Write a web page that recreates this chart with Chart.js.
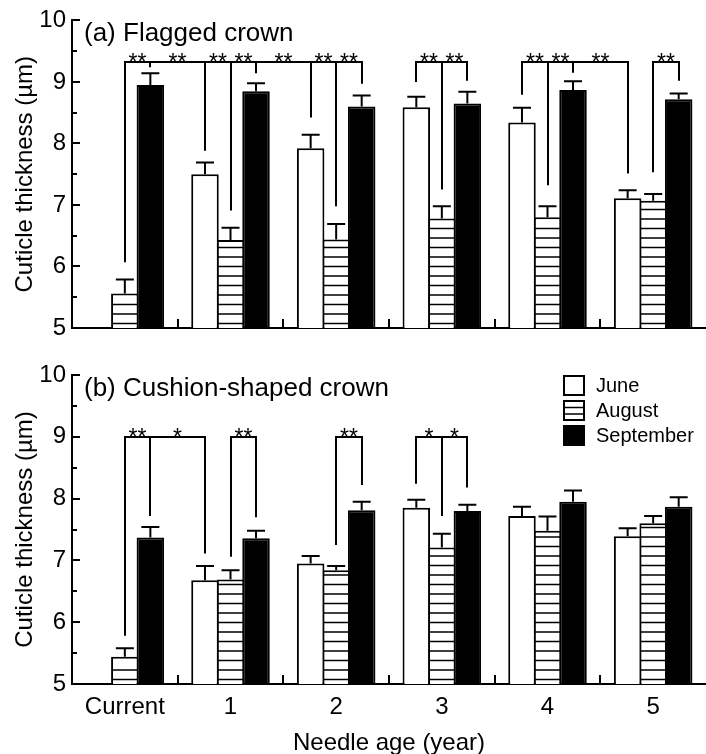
<!DOCTYPE html>
<html>
<head>
<meta charset="utf-8">
<script src="https://cdn.jsdelivr.net/npm/chart.js@4.4.1/dist/chart.umd.min.js"></script>
<style>
  html, body { margin: 0; padding: 0; background: #fff; }
  #wrap { width: 706px; height: 754px; }
  canvas { display: block; }
</style>
</head>
<body>
<div id="wrap">
  <canvas id="flaggedChart" width="706" height="350"></canvas>
  <canvas id="cushionChart" width="706" height="404"></canvas>
</div>
<script>
// needle age classes and sampling months
const ageLabels = ['Current', '1', '2', '3', '4', '5'];
const monthNames = ['June', 'August', 'September'];
const yTicks = [5, 6, 7, 8, 9, 10];

// (a) flagged crown - mean cuticle thickness and SE (um)
const juneA = [null, 7.50, 7.92, 8.59, 8.34, 7.11];
const augA = [5.56, 6.43, 6.44, 6.78, 6.80, 7.07];
const sepA = [8.95, 8.85, 8.60, 8.65, 8.87, 8.72];
const juneErrA = [null, 0.19, 0.22, 0.17, 0.24, 0.13];
const augErrA = [0.23, 0.20, 0.25, 0.20, 0.18, 0.11];
const sepErrA = [0.19, 0.13, 0.18, 0.19, 0.14, 0.09];

// (b) cushion-shaped crown
const juneB = [null, 6.68, 6.95, 7.85, 7.72, 7.39];
const augB = [5.44, 6.69, 6.84, 7.21, 7.48, 7.60];
const sepB = [7.37, 7.36, 7.81, 7.80, 7.95, 7.87];
const juneErrB = [null, 0.23, 0.12, 0.13, 0.15, 0.13];
const augErrB = [0.14, 0.15, 0.07, 0.22, 0.23, 0.12];
const sepErrB = [0.17, 0.12, 0.14, 0.10, 0.18, 0.15];

// significance brackets: level, drops [age index, month index, end value], marks between drops
const bracketsA = [
  { level: 9.33, drops: [[0, 1, 6.07], [0, 2, 9.24], [1, 0, 7.88], [1, 1, 6.91], [1, 2, 9.14], [2, 0, 8.42], [2, 1, 6.98], [2, 2, 8.97]],
    marks: ['**', '**', '**', '**', '**', '**', '**'] },
  { level: 9.33, drops: [[3, 0, 9.00], [3, 1, 7.25], [3, 2, 9.02]], marks: ['**', '**'] },
  { level: 9.33, drops: [[4, 0, 8.79], [4, 1, 7.32], [4, 2, 9.15], [5, 0, 7.51]], marks: ['**', '**', '**'] },
  { level: 9.33, drops: [[5, 1, 7.53], [5, 2, 9.02]], marks: ['**'] }
];
const bracketsB = [
  { level: 9.0, drops: [[0, 1, 5.78], [0, 2, 7.72], [1, 0, 7.11]], marks: ['**', '*'] },
  { level: 9.0, drops: [[1, 1, 7.06], [1, 2, 7.70]], marks: ['**'] },
  { level: 9.0, drops: [[2, 1, 7.25], [2, 2, 8.22]], marks: ['**'] },
  { level: 9.0, drops: [[3, 0, 8.24], [3, 1, 7.72], [3, 2, 8.18]], marks: ['*', '*'] }
];

const FONT = '"Liberation Sans", Arial, Helvetica, sans-serif';
Chart.defaults.font.family = FONT;
Chart.defaults.color = '#000';

// stripes, error bars, inward ticks, brackets, panel label, legend
const panelExtras = {
  id: 'panelExtras',
  afterDatasetsDraw(chart, args, opts) {
    const ctx = chart.ctx;
    const xs = chart.scales.x, ys = chart.scales.y;
    const area = chart.chartArea;
    ctx.save();
    ctx.strokeStyle = '#000';
    ctx.fillStyle = '#000';

    // horizontal hatching of August bars
    ctx.lineWidth = 1.6;
    chart.getDatasetMeta(1).data.forEach(bar => {
      if (!Number.isFinite(bar.y)) return;
      const l = bar.x - bar.width / 2 + 1, r = bar.x + bar.width / 2 - 1;
      const bottom = Math.min(bar.base, area.bottom);
      ctx.beginPath();
      for (let yy = bottom - 4.5; yy > bar.y + 4; yy -= 9.5) {
        ctx.moveTo(l, yy);
        ctx.lineTo(r, yy);
      }
      ctx.stroke();
    });

    // error bars (upper only)
    ctx.lineWidth = 2;
    opts.errors.forEach((errs, d) => {
      const meta = chart.getDatasetMeta(d);
      const vals = chart.data.datasets[d].data;
      errs.forEach((e, i) => {
        if (e == null || vals[i] == null) return;
        const bar = meta.data[i];
        const top = ys.getPixelForValue(vals[i] + e);
        ctx.beginPath();
        ctx.moveTo(bar.x, bar.y);
        ctx.lineTo(bar.x, top);
        ctx.moveTo(bar.x - 9, top);
        ctx.lineTo(bar.x + 9, top);
        ctx.stroke();
      });
    });

    // inward y ticks
    ctx.beginPath();
    for (let v = 5.5; v <= 10; v += 0.5) {
      const py = Math.round(ys.getPixelForValue(v));
      const len = Number.isInteger(v) ? 8 : 5;
      ctx.moveTo(area.left, py);
      ctx.lineTo(area.left + len, py);
    }
    // category separators on x axis
    for (let i = 0; i < ageLabels.length - 1; i++) {
      const px = Math.round((xs.getPixelForValue(i) + xs.getPixelForValue(i + 1)) / 2);
      ctx.moveTo(px, area.bottom);
      ctx.lineTo(px, area.bottom - 9);
    }
    ctx.stroke();

    // significance brackets
    ctx.font = '23px ' + FONT;
    ctx.textAlign = 'center';
    ctx.textBaseline = 'alphabetic';
    opts.brackets.forEach(b => {
      const lv = Math.round(ys.getPixelForValue(b.level));
      const pts = b.drops.map(([g, s, end]) => ({
        x: Math.round(chart.getDatasetMeta(s).data[g].x),
        y: ys.getPixelForValue(end)
      }));
      const first = pts[0], last = pts[pts.length - 1];
      ctx.beginPath();
      ctx.moveTo(first.x, first.y);
      ctx.lineTo(first.x, lv);
      ctx.lineTo(last.x, lv);
      ctx.lineTo(last.x, last.y);
      for (let k = 1; k < pts.length - 1; k++) {
        ctx.moveTo(pts[k].x, lv);
        ctx.lineTo(pts[k].x, pts[k].y);
      }
      ctx.stroke();
      b.marks.forEach((m, k) => {
        const mx = (pts[k].x + pts[k + 1].x) / 2;
        ctx.fillText(m, mx, lv + 8);
      });
    });

    // panel label
    ctx.font = '26px ' + FONT;
    ctx.textAlign = 'left';
    ctx.fillText(opts.title, area.left + 12, area.top + 21);

    // legend
    if (opts.legend) {
      const x0 = area.right - 143;
      ctx.font = '20px ' + FONT;
      ctx.textBaseline = 'middle';
      monthNames.forEach((name, k) => {
        const y0 = area.top + k * 25;
        ctx.lineWidth = 2;
        if (k === 2) {
          ctx.fillRect(x0, y0, 22, 21);
        } else {
          ctx.strokeRect(x0 + 1, y0 + 1, 20, 19);
          if (k === 1) {
            ctx.beginPath();
            for (let s = 1; s < 3; s++) {
              ctx.moveTo(x0 + 1, y0 + 1 + s * 6.5);
              ctx.lineTo(x0 + 21, y0 + 1 + s * 6.5);
            }
            ctx.lineWidth = 1.6;
            ctx.stroke();
          }
        }
        ctx.fillText(name, x0 + 33, y0 + 11);
      });
    }
    ctx.restore();
  }
};

function makePanel(id, june, aug, sep, errs, brackets, title, opt) {
  const ctx = document.getElementById(id).getContext('2d');
  return new Chart(ctx, {
    type: 'bar',
    data: {
      labels: ageLabels,
      datasets: [
        { label: monthNames[0], data: june, backgroundColor: '#fff' },
        { label: monthNames[1], data: aug, backgroundColor: '#fff' },
        { label: monthNames[2], data: sep, backgroundColor: '#000' }
      ]
    },
    options: {
      responsive: false,
      animation: false,
      categoryPercentage: 0.7245,
      barPercentage: 1.078,
      borderColor: '#000',
      borderWidth: 2,
      layout: { padding: { top: opt.padTop, left: 0, right: 0, bottom: 0 } },
      scales: {
        x: {
          grid: { display: false, drawTicks: false },
          border: { display: true, color: '#000', width: 2 },
          ticks: { display: opt.showX, color: '#000', font: { size: 24 }, padding: 9 },
          title: { display: opt.showX, text: 'Needle age (year)', color: '#000',
                   font: { size: 24, lineHeight: 1 }, padding: { top: 0, bottom: -1 } },
          afterFit: s => { s.height = opt.xHeight; }
        },
        y: {
          min: 5, max: 10,
          grid: { display: false, drawTicks: false },
          border: { display: true, color: '#000', width: 2 },
          afterBuildTicks: s => { s.ticks = yTicks.map(v => ({ value: v })); },
          ticks: { color: '#000', font: { size: 24 }, padding: 6 },
          title: { display: true, text: 'Cuticle thickness (µm)', color: '#000',
                   font: { size: 24, lineHeight: 1 }, padding: { top: 13, bottom: 0 } },
          afterFit: s => { s.width = 72; }
        }
      },
      plugins: {
        legend: { display: false },
        tooltip: { enabled: false },
        panelExtras: { errors: errs, brackets: brackets, title: title, legend: opt.legend }
      }
    },
    plugins: [panelExtras]
  });
}

makePanel('flaggedChart', juneA, augA, sepA, [juneErrA, augErrA, sepErrA], bracketsA,
  '(a) Flagged crown', { padTop: 20, xHeight: 22, showX: false, legend: false });
makePanel('cushionChart', juneB, augB, sepB, [juneErrB, augErrB, sepErrB], bracketsB,
  '(b) Cushion-shaped crown', { padTop: 25, xHeight: 70, showX: true, legend: true });
</script>
</body>
</html>
